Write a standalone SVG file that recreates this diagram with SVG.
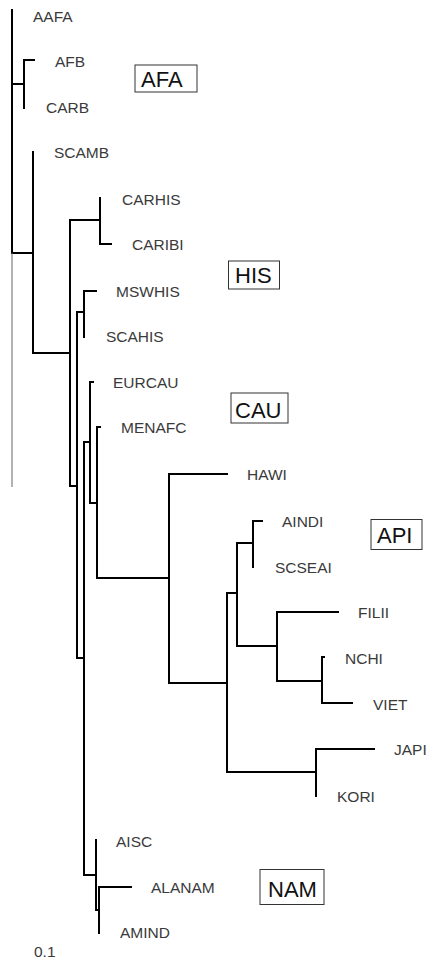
<svg xmlns="http://www.w3.org/2000/svg" width="427" height="963" viewBox="0 0 427 963">
  <style>
    .br { fill: none; stroke: #000; stroke-width: 2; stroke-linejoin: miter; stroke-linecap: square; }
    .bar { fill: none; stroke: #666; stroke-width: 1; }
    .lbl { font-family: "Liberation Sans", Arial, sans-serif; font-size: 15.5px; fill: #3a3a3a; }
    .grp rect { fill: #fff; stroke: #333; stroke-width: 1; }
    .grp text { font-family: "Liberation Sans", Arial, sans-serif; font-size: 22px; fill: #111; }
  </style>
  <rect width="427" height="963" fill="#fff"/>

  <!-- tree branches -->
  <g id="connectors">
    <path class="br" d="M12 10 V253"/>
    <path class="br" d="M12 84 H24"/>
    <path class="br" d="M12 253 H33"/>
    <path class="br" d="M34 60 H24 V108"/>
    <path class="br" d="M33 152 V353 H70"/>
    <path class="br" d="M100 220 H70 V486 H77"/>
    <path class="br" d="M100 198 V244 H111"/>
    <path class="br" d="M84 312 H77 V658 H84"/>
    <path class="br" d="M96 291 H84 V337"/>
    <path class="br" d="M90 442 H84 V875 H96"/>
    <path class="br" d="M93 382 H90 V503 H97"/>
    <path class="br" d="M100 427 H97 V578 H169"/>
    <path class="br" d="M227 474 H169 V683 H227"/>
    <path class="br" d="M237 593 H227 V772 H316"/>
    <path class="br" d="M253 543 H237 V646 H277"/>
    <path class="br" d="M262 521 H253 V567"/>
    <path class="br" d="M338 612 H277 V681 H322"/>
    <path class="br" d="M324 657 H322 V703 H352"/>
    <path class="br" d="M374 749 H316 V796"/>
    <path class="br" d="M96 840 V910 H99"/>
    <path class="br" d="M131 887 H99 V933"/>
    <!-- scale bar -->
    <path class="bar" d="M12 253 V487"/>
  </g>

  <!-- leaf labels -->
  <g id="AAFA"><text class="lbl" x="33" y="22">AAFA</text></g>
  <g id="AFB"><text class="lbl" x="55" y="67">AFB</text></g>
  <g id="CARB"><text class="lbl" x="46" y="113">CARB</text></g>
  <g id="SCAMB"><text class="lbl" x="54" y="158">SCAMB</text></g>
  <g id="CARHIS"><text class="lbl" x="122" y="205">CARHIS</text></g>
  <g id="CARIBI"><text class="lbl" x="132" y="250">CARIBI</text></g>
  <g id="MSWHIS"><text class="lbl" x="116" y="297">MSWHIS</text></g>
  <g id="SCAHIS"><text class="lbl" x="106" y="342">SCAHIS</text></g>
  <g id="EURCAU"><text class="lbl" x="113" y="388">EURCAU</text></g>
  <g id="MENAFC"><text class="lbl" x="121" y="433">MENAFC</text></g>
  <g id="HAWI"><text class="lbl" x="247" y="480">HAWI</text></g>
  <g id="AINDI"><text class="lbl" x="282" y="527">AINDI</text></g>
  <g id="SCSEAI"><text class="lbl" x="275" y="573">SCSEAI</text></g>
  <g id="FILII"><text class="lbl" x="358" y="618">FILII</text></g>
  <g id="NCHI"><text class="lbl" x="345" y="664">NCHI</text></g>
  <g id="VIET"><text class="lbl" x="373" y="710">VIET</text></g>
  <g id="JAPI"><text class="lbl" x="394" y="755">JAPI</text></g>
  <g id="KORI"><text class="lbl" x="337" y="802">KORI</text></g>
  <g id="AISC"><text class="lbl" x="116" y="847">AISC</text></g>
  <g id="ALANAM"><text class="lbl" x="151" y="893">ALANAM</text></g>
  <g id="AMIND"><text class="lbl" x="120" y="938">AMIND</text></g>

  <!-- population group tags -->
  <g id="grp-AFA" class="grp"><rect x="135" y="65" width="62" height="27"/><text x="141" y="87">AFA</text></g>
  <g id="grp-HIS" class="grp"><rect x="228.5" y="261" width="51" height="28"/><text x="235" y="283">HIS</text></g>
  <g id="grp-CAU" class="grp"><rect x="231" y="393" width="57" height="30"/><text x="235" y="418">CAU</text></g>
  <g id="grp-API" class="grp"><rect x="371" y="519.5" width="51" height="30"/><text x="377" y="543">API</text></g>
  <g id="grp-NAM" class="grp"><rect x="260" y="869.5" width="64" height="35"/><text x="268" y="897">NAM</text></g>

  <g id="scale"><text class="lbl" x="34" y="957">0.1</text></g>
</svg>
